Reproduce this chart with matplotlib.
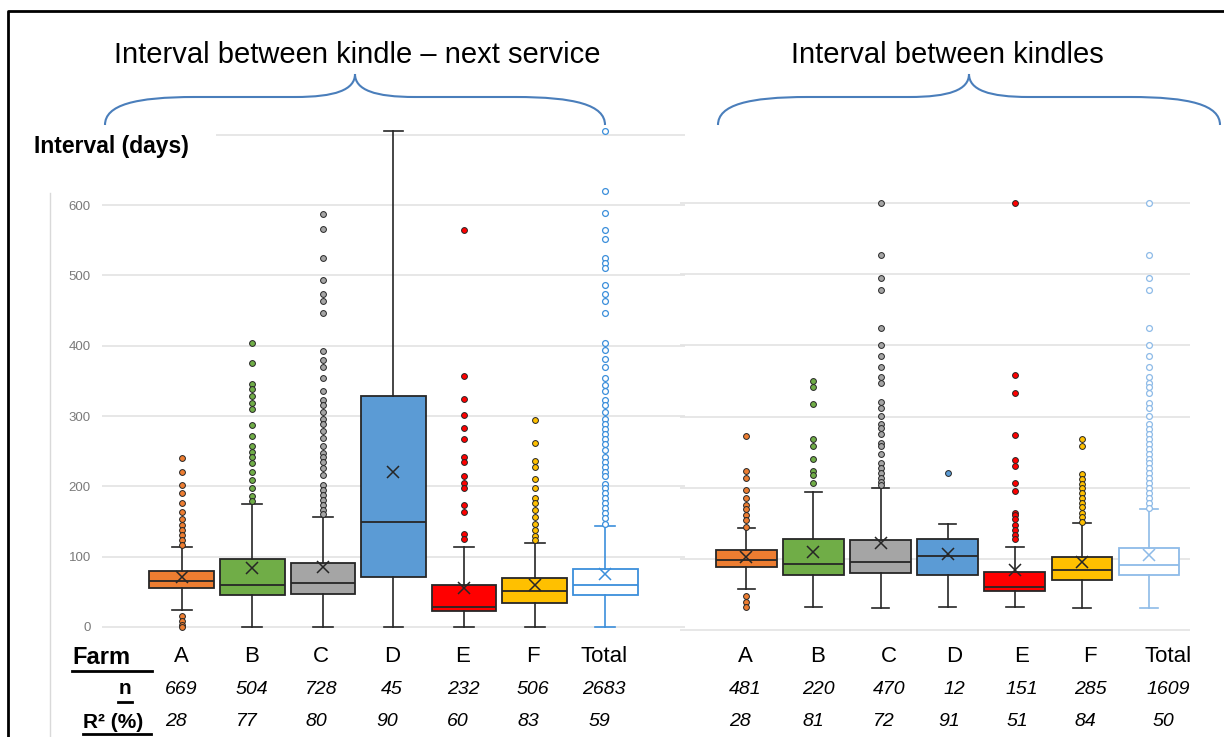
import matplotlib
matplotlib.use("Agg")
import matplotlib.pyplot as plt
from matplotlib.path import Path
from matplotlib.patches import PathPatch

plt.rcParams['font.family'] = ['Liberation Sans', 'DejaVu Sans']

# ---- data ----
farms = ["A", "B", "C", "D", "E", "F", "Total"]

# interval between kindle and next service (days)
svc_q1 = [56, 45, 47, 71, 22, 34, 45]
svc_med = [66, 59, 62, 149, 28, 51, 60]
svc_q3 = [79, 97, 91, 329, 60, 69, 83]
svc_lo = [24, 0, 0, 0, 0, 0, 0]
svc_hi = [114, 175, 157, 705, 114, 119, 144]
svc_mean = [71, 84, 85, 221, 56, 59, 76]
svc_fliers = [
    [240, 221, 202, 190, 177, 164, 154, 145, 138, 131, 123, 117, 15, 9, 3, 0],
    [404, 375, 345, 338, 328, 318, 310, 287, 272, 258, 249, 241, 233, 220, 209, 198, 186, 179],
    [587, 566, 525, 493, 473, 464, 447, 393, 380, 369, 354, 336, 323, 315, 305, 296, 289, 278,
     269, 258, 248, 241, 234, 226, 216, 202, 195, 188, 181, 174, 166, 161],
    [],
    [565, 357, 324, 301, 283, 267, 242, 234, 214, 205, 198, 174, 164, 132, 125],
    [295, 261, 236, 227, 210, 198, 184, 177, 167, 157, 147, 138, 130, 123],
    [706, 620, 588, 565, 552, 525, 518, 510, 487, 473, 464, 446, 404, 394, 381, 369, 354, 344,
     336, 323, 315, 305, 296, 289, 282, 274, 267, 260, 252, 242, 235, 228, 221, 214, 204, 197,
     190, 183, 176, 169, 162, 155, 147],
]
svc_n = ["669", "504", "728", "45", "232", "506", "2683"]
svc_r2 = ["28", "77", "80", "90", "60", "83", "59"]

# interval between kindles (days)
kin_q1 = [89, 78, 80, 78, 55, 71, 78]
kin_med = [99, 93, 95, 104, 61, 85, 92]
kin_q3 = [112, 128, 127, 128, 82, 102, 115]
kin_lo = [58, 32, 31, 32, 33, 31, 31]
kin_hi = [143, 194, 199, 149, 116, 151, 170]
kin_mean = [103, 109, 122, 107, 84, 95, 105]
kin_fliers = [
    [272, 223, 214, 197, 186, 176, 170, 161, 155, 145, 48, 40, 33],
    [350, 341, 318, 269, 259, 240, 223, 218, 206],
    [600, 527, 495, 478, 424, 400, 385, 369, 356, 347, 321, 312, 301, 290, 284, 275, 263, 258,
     247, 235, 227, 220, 213, 208, 204],
    [220],
    [600, 358, 333, 274, 239, 230, 207, 195, 165, 162, 156, 147, 141, 134, 128],
    [268, 259, 219, 212, 205, 199, 192, 186, 179, 173, 165, 159, 152],
    [600, 527, 495, 478, 424, 400, 385, 369, 356, 347, 341, 333, 319, 312, 301, 290, 283, 276,
     269, 262, 255, 248, 241, 234, 227, 220, 213, 206, 199, 192, 185, 178, 172],
]
kin_n = ["481", "220", "470", "12", "151", "285", "1609"]
kin_r2 = ["28", "81", "72", "91", "51", "84", "50"]

fills = ["#ED7D31", "#70AD47", "#A5A5A5", "#5B9BD5", "#FF0000", "#FFC000", "white"]
total_edge = {"svc": "#3C8FDB", "kin": "#8EBBE8"}
GRID = "#E3E3E3"
DARK = "#262626"


def draw_panel(ax, q1, med, q3, lo, hi, mean, fliers, width, capw, tot_col):
    for i in range(len(farms)):
        st = dict(q1=q1[i], med=med[i], q3=q3[i], whislo=lo[i], whishi=hi[i],
                  mean=mean[i], fliers=fliers[i])
        is_tot = farms[i] == "Total"
        ec = tot_col if is_tot else DARK
        fc = "white" if is_tot else fills[i]
        ax.bxp([st], positions=[i + 1], widths=width, capwidths=capw,
               showmeans=True, patch_artist=True, manage_ticks=False,
               boxprops=dict(facecolor=fc, edgecolor=ec, linewidth=1.3),
               medianprops=dict(color=ec, linewidth=1.3),
               whiskerprops=dict(color=ec, linewidth=1.2),
               capprops=dict(color=ec, linewidth=1.2),
               meanprops=dict(marker="x", markeredgecolor=ec, markersize=8,
                              markeredgewidth=1.1),
               flierprops=dict(marker="o", markerfacecolor=fc, markeredgecolor=ec,
                               markersize=4.2, markeredgewidth=0.9 if is_tot else 0.7),
               zorder=3)
    ax.set_yticks(range(0, 700, 100))
    ax.grid(axis="y", color=GRID, linewidth=1.2, zorder=0)
    ax.set_xticks([])
    for s in ax.spines.values():
        s.set_visible(False)
    ax.tick_params(length=0)
    ax.set_facecolor("none")


W, H = 1224, 737
fig = plt.figure(figsize=(W / 100, H / 100), dpi=100)

# left panel
ax1 = fig.add_axes([102 / W, 1 - 634 / H, 583 / W, 506.3 / H])
draw_panel(ax1, svc_q1, svc_med, svc_q3, svc_lo, svc_hi, svc_mean, svc_fliers,
           0.915, 0.28, total_edge["svc"])
ax1.set_xlim(-0.13, 8.13)
ax1.set_ylim(-10, 710)
ax1.hlines(700, 1.49, 8.13, color=GRID, linewidth=1.2, zorder=0)
ax1.tick_params(axis="y", labelsize=9.5, labelcolor="#7A7A7A", pad=8)

# right panel
ax2 = fig.add_axes([680 / W, 1 - 633.6 / H, 510 / W, 441.3 / H])
draw_panel(ax2, kin_q1, kin_med, kin_q3, kin_lo, kin_hi, kin_mean, kin_fliers,
           0.905, 0.26, total_edge["kin"])
ax2.set_xlim(0.012, 7.61)
ax2.set_ylim(-5, 615)
ax2.set_yticklabels([])

# overlay for frame, braces and table text (pixel coordinates)
ov = fig.add_axes([0, 0, 1, 1])
ov.set_xlim(0, W)
ov.set_ylim(H, 0)
ov.axis("off")
ov.patch.set_visible(False)

ov.plot([8, 8, W], [H, 11, 11], color="black", linewidth=2)
ov.plot([50, 50], [193, H], color="#D9D9D9", linewidth=1)


def brace(x0, x1, tip_y=74, flat_y=97, end_y=125):
    xm = (x0 + x1) / 2
    verts = [(x0, end_y), (x0, 105), (x0 + 30, flat_y), (x0 + 90, flat_y),
             (xm - 60, flat_y),
             (xm - 20, flat_y), (xm, 90), (xm, tip_y),
             (xm, 90), (xm + 20, flat_y), (xm + 60, flat_y),
             (x1 - 90, flat_y),
             (x1 - 30, flat_y), (x1, 105), (x1, end_y)]
    codes = [Path.MOVETO, Path.CURVE4, Path.CURVE4, Path.CURVE4, Path.LINETO,
             Path.CURVE4, Path.CURVE4, Path.CURVE4,
             Path.CURVE4, Path.CURVE4, Path.CURVE4, Path.LINETO,
             Path.CURVE4, Path.CURVE4, Path.CURVE4]
    ov.add_patch(PathPatch(Path(verts, codes), facecolor="none",
                           edgecolor="#4A7EBB", linewidth=1.5))


brace(105, 605)
brace(718, 1220)

ov.text(357, 55, "Interval between kindle \u2013 next service", fontsize=21,
        ha="center", va="center")
ov.text(947, 55, "Interval between kindles", fontsize=21, ha="center", va="center")
ov.text(34, 146, "Interval (days)", fontsize=16.5, fontweight="bold", ha="left", va="center")

# table under the panels
left_x = [181, 252, 321, 392, 463, 533, 604]
right_x = [745, 818, 889, 954, 1022, 1090, 1168]
row_y = [657, 689, 722]

ov.text(72, row_y[0], "Farm", fontsize=17, fontweight="bold", ha="left", va="center")
ov.plot([72, 152], [671, 671], color="black", linewidth=2)
ov.text(125, row_y[1], "n", fontsize=15, fontweight="bold", ha="center", va="center")
ov.plot([118, 132], [702, 702], color="black", linewidth=2)
ov.text(83, row_y[2], "R\u00b2 (%)", fontsize=15, fontweight="bold", ha="left", va="center")
ov.plot([83, 151], [734, 734], color="black", linewidth=2)

for xs, ns, rs in [(left_x, svc_n, svc_r2), (right_x, kin_n, kin_r2)]:
    for x, f, n, r in zip(xs, farms, ns, rs):
        ov.text(x, row_y[0], f, fontsize=16, ha="center", va="center")
        ov.text(x, row_y[1], n, fontsize=14, style="italic", ha="center", va="center")
        ov.text(x - 5, row_y[2], r, fontsize=14, style="italic", ha="center", va="center")

fig.savefig("out.png", dpi=100)
